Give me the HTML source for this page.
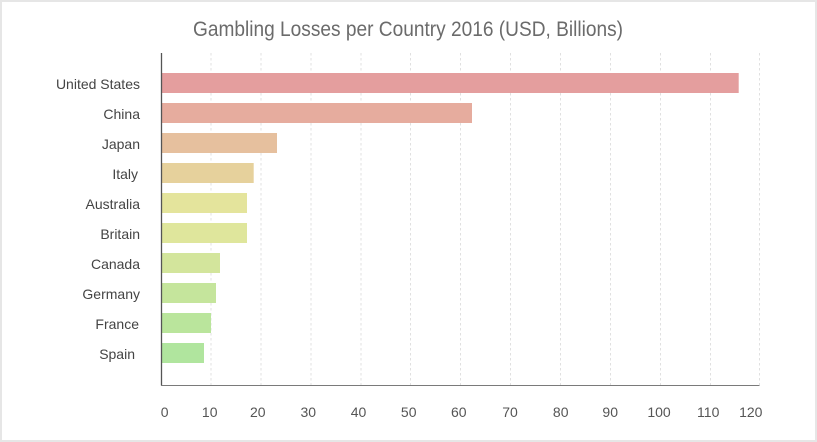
<!DOCTYPE html>
<html>
<head>
<meta charset="utf-8">
<style>
html,body{margin:0;padding:0;background:#fff;}
svg{display:block;}
</style>
</head>
<body>
<svg width="817" height="442" viewBox="0 0 817 442" xmlns="http://www.w3.org/2000/svg">
  <rect x="0" y="0" width="817" height="442" fill="#ffffff"/>
  <rect x="1" y="1" width="815" height="440" fill="none" stroke="#e6e6e6" stroke-width="2"/>

  <text x="193" y="36" font-family="Liberation Sans, sans-serif" font-size="21" fill="#6b6b6b" textLength="430" lengthAdjust="spacingAndGlyphs">Gambling Losses per Country 2016 (USD, Billions)</text>

  <!-- gridlines -->
  <g stroke="#e0e0e0" stroke-width="1" stroke-dasharray="2.5,2.5">
    <line x1="211" y1="53" x2="211" y2="385"/>
    <line x1="261" y1="53" x2="261" y2="385"/>
    <line x1="311" y1="53" x2="311" y2="385"/>
    <line x1="361" y1="53" x2="361" y2="385"/>
    <line x1="410.5" y1="53" x2="410.5" y2="385"/>
    <line x1="460.5" y1="53" x2="460.5" y2="385"/>
    <line x1="510.5" y1="53" x2="510.5" y2="385"/>
    <line x1="560.5" y1="53" x2="560.5" y2="385"/>
    <line x1="610.5" y1="53" x2="610.5" y2="385"/>
    <line x1="660.5" y1="53" x2="660.5" y2="385"/>
    <line x1="710.5" y1="53" x2="710.5" y2="385"/>
    <line x1="759.5" y1="53" x2="759.5" y2="385"/>
  </g>

  <!-- bars -->
  <rect x="161" y="73" width="577.7" height="20" fill="#e49e9e"/>
  <rect x="161" y="103" width="311" height="20" fill="#e6ac9e"/>
  <rect x="161" y="133" width="116" height="20" fill="#e6c09e"/>
  <rect x="161" y="163" width="92.7" height="20" fill="#e6d19c"/>
  <rect x="161" y="193" width="86" height="20" fill="#e4e49c"/>
  <rect x="161" y="223" width="86" height="20" fill="#dfe69c"/>
  <rect x="161" y="253" width="59" height="20" fill="#d3e59c"/>
  <rect x="161" y="283" width="55" height="20" fill="#c5e59c"/>
  <rect x="161" y="313" width="50" height="20" fill="#bae59c"/>
  <rect x="161" y="343" width="43" height="20" fill="#b0e59e"/>

  <!-- axes -->
  <line x1="161.5" y1="53" x2="161.5" y2="385.5" stroke="#555555" stroke-width="1.3"/>
  <line x1="161" y1="385.5" x2="759.5" y2="385.5" stroke="#7a7a7a" stroke-width="1"/>

  <!-- y labels -->
  <g font-family="Liberation Sans, sans-serif" font-size="14" fill="#444444" text-anchor="end">
    <text x="140" y="89">United States</text>
    <text x="140" y="119">China</text>
    <text x="140" y="149">Japan</text>
    <text x="138" y="179">Italy</text>
    <text x="140" y="209">Australia</text>
    <text x="140" y="239">Britain</text>
    <text x="140" y="269">Canada</text>
    <text x="140" y="299">Germany</text>
    <text x="139" y="329">France</text>
    <text x="135" y="359">Spain</text>
  </g>

  <!-- x labels -->
  <g font-family="Liberation Sans, sans-serif" font-size="14" fill="#555555" text-anchor="middle">
    <text x="164.7" y="417">0</text>
    <text x="209.7" y="417">10</text>
    <text x="257.8" y="417">20</text>
    <text x="308.3" y="417">30</text>
    <text x="358.5" y="417">40</text>
    <text x="408.7" y="417">50</text>
    <text x="458.8" y="417">60</text>
    <text x="510" y="417">70</text>
    <text x="560.7" y="417">80</text>
    <text x="610.2" y="417">90</text>
    <text x="659" y="417">100</text>
    <text x="708.2" y="417">110</text>
    <text x="750.8" y="417">120</text>
  </g>
</svg>
</body>
</html>
